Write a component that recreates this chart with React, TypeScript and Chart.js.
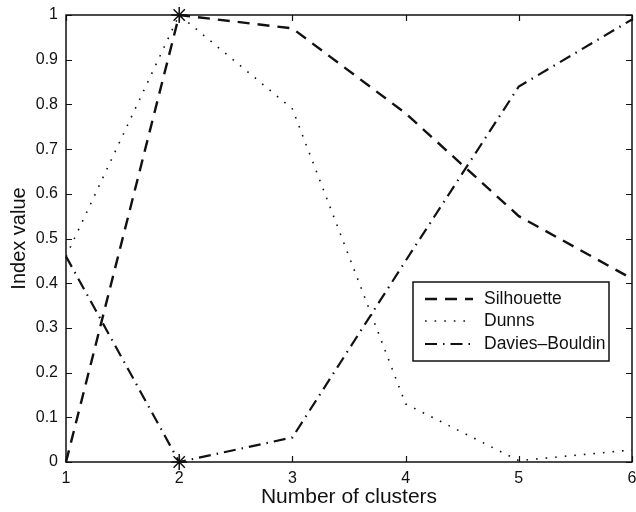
import React, { useEffect, useRef } from "react";
import { Chart, registerables } from "chart.js";

Chart.register(...registerables);

const clusters = [1, 2, 3, 4, 5, 6];
const silhouette = [0, 1, 0.97, 0.78, 0.55, 0.41];
const dunns = [0.46, 1, 0.79, 0.13, 0.003, 0.027];
const daviesBouldin = [0.46, 0, 0.055, 0.45, 0.84, 0.99];
const seriesLabels = ["Silhouette", "Dunns", "Davies\u2013Bouldin"];
const yTicks = [0, 0.1, 0.2, 0.3, 0.4, 0.5, 0.6, 0.7, 0.8, 0.9, 1];

const FONT = "'Liberation Sans', Arial, Helvetica, sans-serif";

const framePlugin = {
  id: "frame",
  afterDatasetsDraw(chart: any) {
    const { ctx, chartArea, scales } = chart;
    const { left, right, top, bottom } = chartArea;
    ctx.save();
    ctx.strokeStyle = "#111";
    ctx.lineWidth = 1.2;
    const tl = 6;
    ctx.beginPath();
    scales.x.ticks.forEach((t: any) => {
      const px = Math.round(scales.x.getPixelForValue(t.value)) + 0.5;
      ctx.moveTo(px, bottom);
      ctx.lineTo(px, bottom - tl);
      ctx.moveTo(px, top);
      ctx.lineTo(px, top + tl);
    });
    scales.y.ticks.forEach((t: any) => {
      const py = Math.round(scales.y.getPixelForValue(t.value)) + 0.5;
      ctx.moveTo(left, py);
      ctx.lineTo(left + tl, py);
      ctx.moveTo(right, py);
      ctx.lineTo(right - tl, py);
    });
    ctx.stroke();
    ctx.lineWidth = 1.5;
    ctx.strokeRect(left, top, right - left, bottom - top);
    ctx.restore();
  },
  afterDraw(chart: any) {
    const { ctx } = chart;
    const bx = 413, by = 282, bw = 196, bh = 79;
    ctx.save();
    ctx.fillStyle = "#fff";
    ctx.fillRect(bx, by, bw, bh);
    ctx.strokeStyle = "#111";
    ctx.lineWidth = 1.5;
    ctx.strokeRect(bx, by, bw, bh);
    const rows = [299, 321, 344];
    chart.data.datasets.forEach((ds: any, i: number) => {
      const y = rows[i];
      ctx.beginPath();
      ctx.setLineDash(ds.borderDash || []);
      ctx.lineWidth = ds.borderWidth;
      ctx.strokeStyle = ds.borderColor;
      ctx.moveTo(425, y);
      ctx.lineTo(473, y);
      ctx.stroke();
      ctx.setLineDash([]);
      ctx.fillStyle = "#111";
      ctx.font = `17.5px ${FONT}`;
      ctx.textBaseline = "middle";
      ctx.textAlign = "left";
      ctx.fillText(ds.label, 484, y);
    });
    ctx.restore();
  },
};

export default function App() {
  const ref = useRef<HTMLCanvasElement>(null);
  useEffect(() => {
    document.body.style.margin = "0";
    const mk = (arr: number[]) => clusters.map((x, i) => ({ x, y: arr[i] }));
    const chart = new Chart(ref.current!, {
      type: "line",
      data: {
        datasets: [
          {
            label: seriesLabels[0],
            data: mk(silhouette),
            borderColor: "#111",
            backgroundColor: "#111",
            borderWidth: 2.4,
            borderDash: [12, 8],
            pointStyle: "star",
            pointRadius: [0, 8, 0, 0, 0, 0],
            pointBorderWidth: 1.5,
            pointBorderColor: "#111",
            tension: 0,
            clip: false,
          },
          {
            label: seriesLabels[1],
            data: mk(dunns),
            borderColor: "#111",
            backgroundColor: "#111",
            borderWidth: 1.6,
            borderDash: [1.6, 8],
            pointRadius: 0,
            tension: 0,
          },
          {
            label: seriesLabels[2],
            data: mk(daviesBouldin),
            borderColor: "#111",
            backgroundColor: "#111",
            borderWidth: 2.2,
            borderDash: [12, 6, 1.5, 6],
            pointStyle: "star",
            pointRadius: [0, 8, 0, 0, 0, 0],
            pointBorderWidth: 1.5,
            pointBorderColor: "#111",
            tension: 0,
            clip: false,
          },
        ],
      },
      options: {
        animation: false,
        responsive: false,
        layout: { padding: { left: 0, right: 4, top: 15, bottom: 0 } },
        plugins: { legend: { display: false }, tooltip: { enabled: false } },
        scales: {
          x: {
            type: "linear",
            min: 1,
            max: 6,
            grid: { display: false, drawTicks: false },
            border: { display: false },
            afterFit: (scale: any) => {
              scale.height = 50;
              scale.paddingRight = 0;
              scale.paddingLeft = 0;
            },
            ticks: {
              stepSize: 1,
              padding: 7,
              color: "#111",
              font: { family: FONT, size: 16 },
              maxRotation: 0,
            },
            title: {
              display: true,
              text: "Number of clusters",
              color: "#111",
              font: { family: FONT, size: 21 },
              padding: { top: 0, bottom: 2 },
            },
          },
          y: {
            min: 0,
            max: 1,
            afterBuildTicks: (scale: any) => {
              scale.ticks = yTicks.map((v) => ({ value: v }));
            },
            afterFit: (scale: any) => {
              scale.width = 66;
              scale.paddingTop = 0;
              scale.paddingBottom = 0;
            },
            grid: { display: false, drawTicks: false },
            border: { display: false },
            ticks: {
              padding: 8,
              color: "#111",
              font: { family: FONT, size: 16 },
              callback: (v: any) => String(Math.round(Number(v) * 10) / 10),
            },
            title: {
              display: true,
              text: "Index value",
              color: "#111",
              font: { family: FONT, size: 20 },
              padding: { top: 7, bottom: 0 },
            },
          },
        },
      },
      plugins: [framePlugin],
    });
    return () => chart.destroy();
  }, []);
  return (
    <div style={{ position: "absolute", left: 0, top: 0, width: 636, height: 512 }}>
      <canvas ref={ref} width={636} height={512} />
    </div>
  );
}
